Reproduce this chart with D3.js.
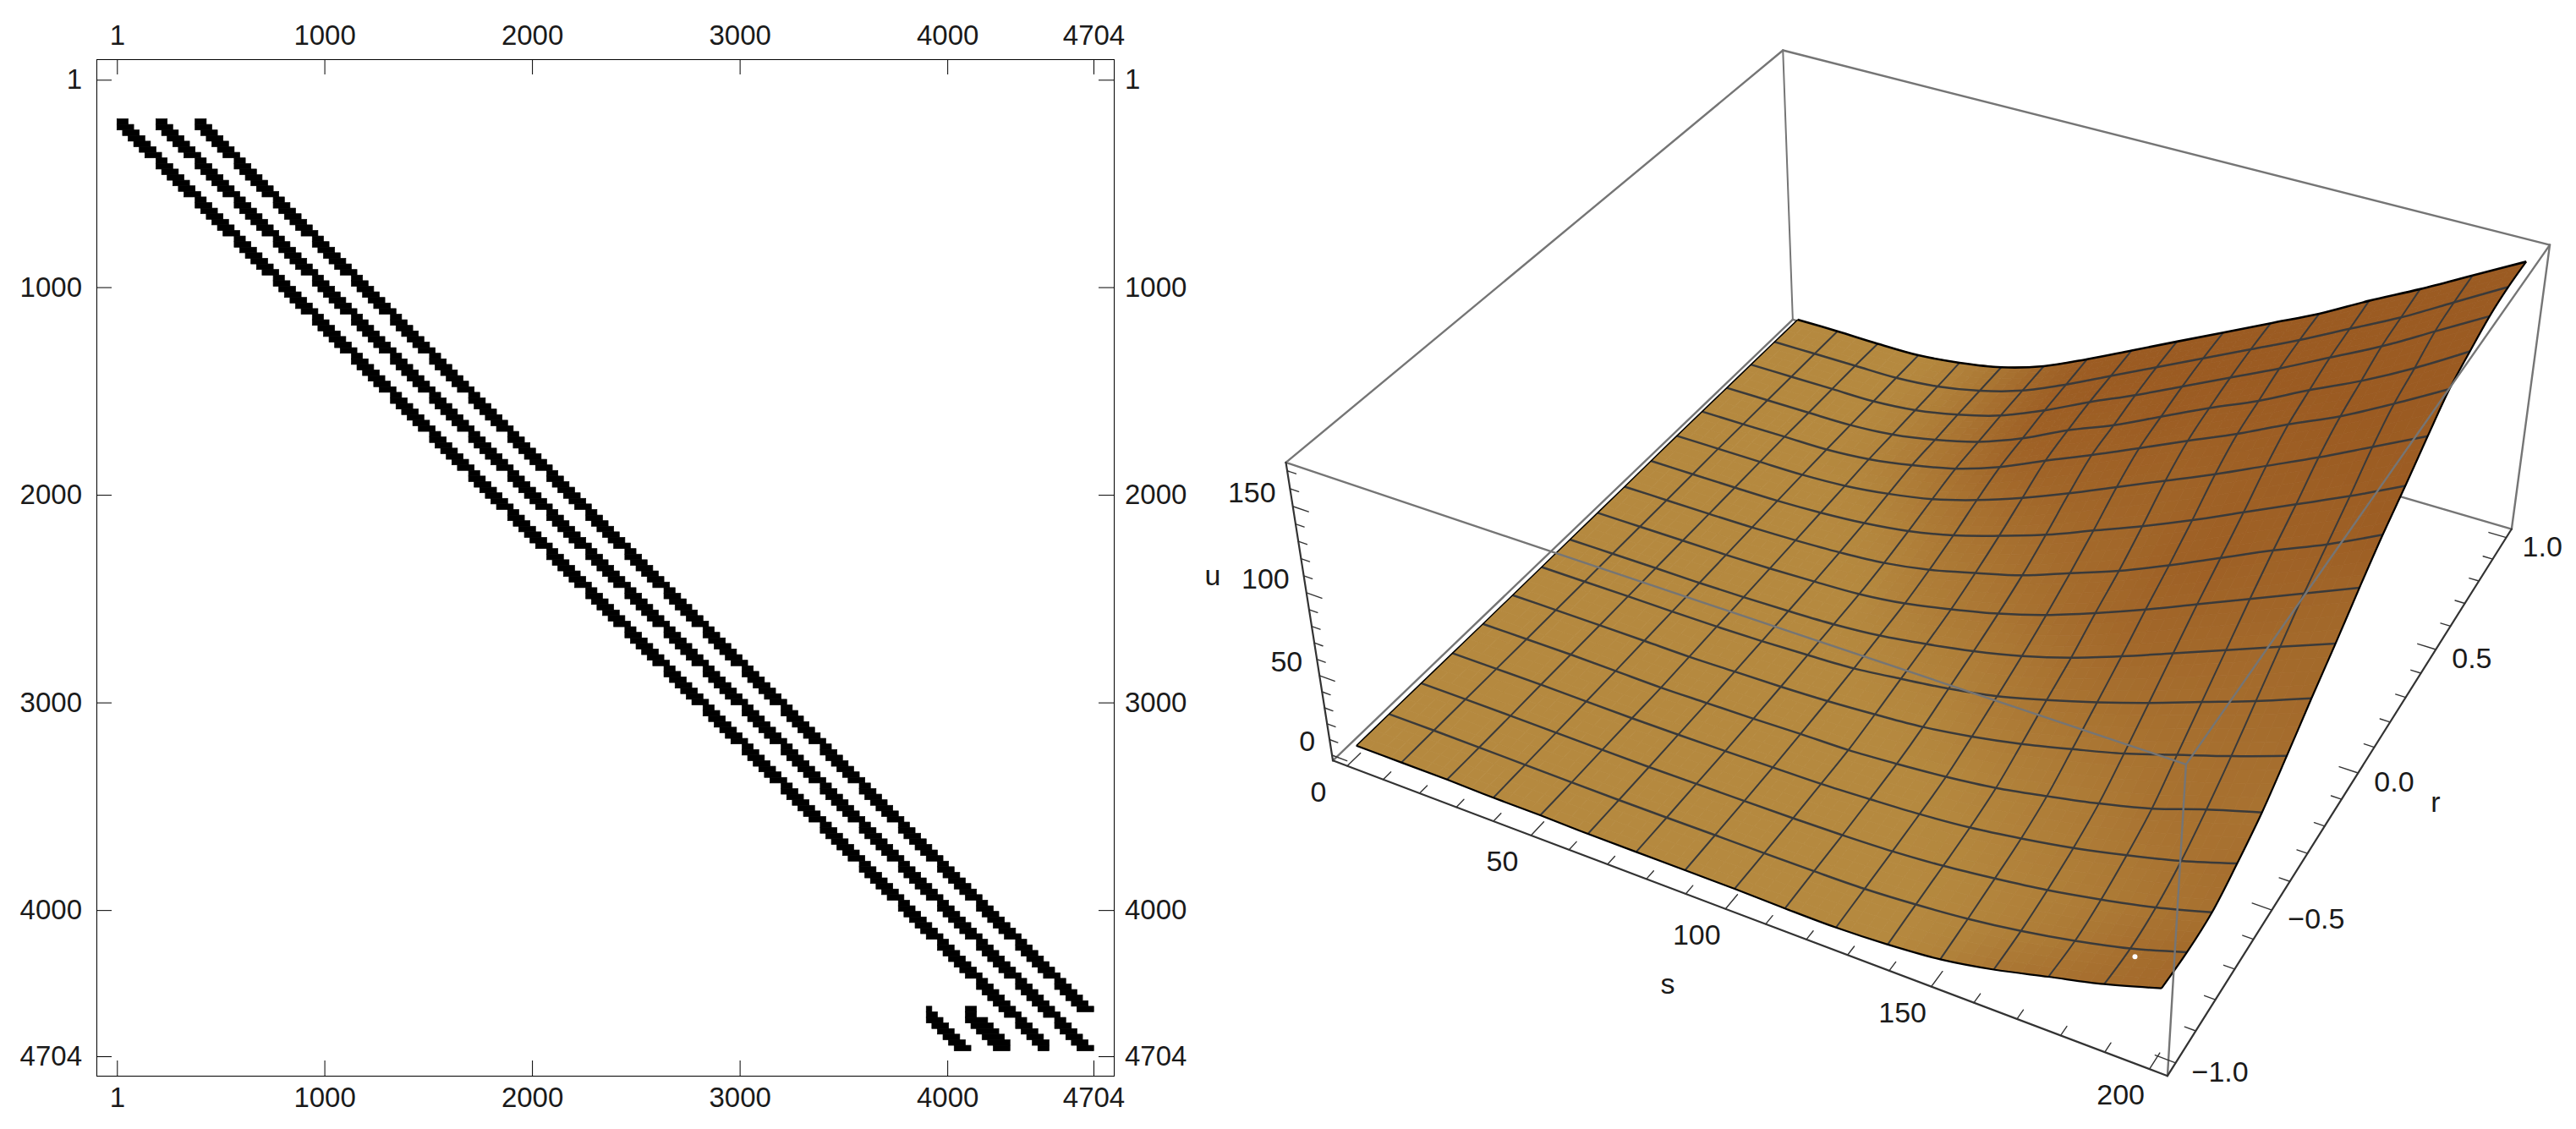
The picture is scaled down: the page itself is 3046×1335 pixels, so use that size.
<!DOCTYPE html>
<html>
<head>
<title>Sparsity pattern and solution surface</title>
<meta charset="utf-8" />
<style>
html, body { margin: 0; padding: 0; background: #fff; }
svg { display: block; }
text { font-family: "Liberation Sans", Arial, sans-serif; fill: #1a1a1a; }
.tick line { stroke: #000; }
</style>
</head>
<body>
<script src="https://d3js.org/d3.v7.min.js"></script>
<script>
// ---- matrix plot data
var matrixSize = 4704;
var matrixTicks = [1, 1000, 2000, 3000, 4000, 4704];
var cellUnits = 26.88;
var blockLength = 7;
// [first col, last col] of each row inside one repeating block of a band
var blockRows = [[0, 1], [0, 2], [1, 3], [2, 4], [3, 5], [4, 6], [5, 7]];
// [first row, first col, last row, last col], in raster cells
var bands = [[7, 0, 173, 166], [7, 7, 173, 174], [7, 14, 166, 174]];
var shortBandRows = [
    [[166, 145, 145], [167, 145, 146], [168, 145, 147], [169, 146, 148], [170, 147, 149], [171, 148, 150], [172, 149, 151], [173, 150, 152]],
    [[166, 152, 153], [167, 152, 153], [168, 152, 155], [169, 153, 156], [170, 154, 157], [171, 155, 158], [172, 156, 159], [173, 157, 159]]
];

// ---- surface data: u at the mesh crossings, one row per r value
var sValues = [0, 12.5, 25, 37.5, 50, 62.5, 75, 87.5, 100, 112.5, 125, 137.5, 150, 162.5, 175, 187.5, 200];
var rValues = [-1, -0.875, -0.75, -0.625, -0.5, -0.375, -0.25, -0.125, 0, 0.125, 0.25, 0.375, 0.5, 0.625, 0.75, 0.875, 1];
var uRowM100 = [3, 3, 3, 2.5, 2.5, 2, 2, 2, 2, 1.5, 1.5, 3, 6, 12, 20, 28, 38];
var uRowM087 = [3, 3, 2.8, 2.5, 2.2, 2, 2, 2.2, 2.2, 2.4, 3, 5, 8, 12.5, 18.5, 26, 36];
var uRowM075 = [3, 3, 2.8, 2.5, 2.2, 2, 2.2, 2.4, 2.6, 3.2, 4.4, 6.8, 10.5, 15, 21, 28, 37];
var uRowM062 = [3, 3, 3, 2.5, 2.2, 2.2, 2.4, 2.8, 3.2, 4.5, 6.2, 9, 13.5, 19, 26, 34, 44];
var uRowM050 = [3, 3, 3, 2.5, 2, 2.4, 2.8, 3.6, 4, 6, 8.7, 12.6, 18.5, 25, 33, 43.6, 53];
var uRowM037 = [3.1, 3.1, 3, 2.8, 2.5, 3, 3.5, 4.6, 6.5, 9, 13.5, 19.5, 27, 35, 45, 55, 66];
var uRowM025 = [3.2, 3.2, 3.2, 3, 3, 3.5, 4.5, 6, 9.5, 13.5, 19, 27, 36, 46, 57, 68, 80];
var uRowM012 = [3.4, 3.4, 3.4, 3.2, 3.5, 4.2, 5.4, 8, 12.5, 18, 25, 34, 45, 57, 69, 81, 93];
var uRowP000 = [3.5, 3.5, 3.5, 3.5, 4, 5, 6.4, 10, 16, 23, 32, 43, 55, 68, 81, 94, 107];
var uRowP012 = [3.6, 3.6, 3.6, 3.8, 4.6, 6, 8.5, 13.5, 21, 29, 40, 51, 64, 78, 92, 105, 120];
var uRowP025 = [3.8, 3.8, 3.8, 4, 5.2, 7.5, 11.5, 18, 27, 37, 49, 61, 74, 88, 102, 116, 131];
var uRowP037 = [4, 4, 4, 4.2, 5.8, 9.5, 15, 23.5, 34, 46, 59, 72, 85, 99, 113, 128, 143];
var uRowP050 = [4, 4, 4.2, 4.3, 6.6, 11.4, 18, 28, 41, 53.5, 66.6, 80, 93, 107.5, 121, 137, 154];
var uRowP062 = [4, 4, 4, 4.2, 6.5, 11.6, 19, 30, 44, 56, 70, 84, 97, 112, 126, 142, 160];
var uRowP075 = [4, 4, 4, 4, 6.5, 12, 20, 32, 46, 59, 73, 87, 101, 116, 131, 148, 165];
var uRowP087 = [4, 4, 4, 4, 6.5, 12, 20.5, 33, 47, 61, 75, 89, 103, 118, 133, 150, 167];
var uRowP100 = [4, 4, 3.5, 3.7, 6.8, 12, 21, 34, 48, 62, 76, 90, 104, 120, 135, 151, 167];
var uRows = [uRowM100, uRowM087, uRowM075, uRowM062, uRowM050, uRowM037, uRowM025, uRowM012, uRowP000,
             uRowP012, uRowP025, uRowP037, uRowP050, uRowP062, uRowP075, uRowP087, uRowP100];

var sTicks = [0, 50, 100, 150, 200];
var rTicks = [-1, -0.5, 0, 0.5, 1];
var uTicks = [0, 50, 100, 150];
var sMinor = d3.range(0, 201, 10);
var rMinor = d3.range(-10, 11).map(function(d) { return d / 10; });
var uMinor = d3.range(0, 171, 10);

var svg = d3.select("body").append("svg")
    .attr("width", 3046)
    .attr("height", 1335);

// ---- left panel
var xM = d3.scaleLinear().domain([1, matrixSize]).range([138.3, 1293]);
var yM = d3.scaleLinear().domain([1, matrixSize]).range([94.3, 1249]);
var frame = {left: 114, right: 1317, top: 70, bottom: 1272};

var cells = [];
bands.forEach(function(b) {
    for (var row = b[0]; row <= b[2]; row++) {
        var k = row - b[0];
        var block = Math.floor(k / blockLength);
        var span = blockRows[k % blockLength];
        var c0 = b[1] + block * blockLength + span[0];
        var c1 = b[1] + block * blockLength + span[1];
        cells.push([row, c0, Math.min(c1, b[3])]);
    }
});
shortBandRows.forEach(function(rows) { cells = cells.concat(rows); });

// the thin stroke closes the seams between neighbouring rows
var matrix = svg.append("g");
matrix.selectAll("rect")
    .data(cells)
  .enter().append("rect")
    .attr("x", function(d) { return xM(1 + d[1] * cellUnits); })
    .attr("y", function(d) { return yM(1 + d[0] * cellUnits); })
    .attr("width", function(d) { return xM(1 + (d[2] + 1) * cellUnits) - xM(1 + d[1] * cellUnits); })
    .attr("height", yM(1 + cellUnits) - yM(1))
    .attr("fill", "#000")
    .attr("stroke", "#000")
    .attr("stroke-width", 0.7);

function matrixAxis(axis, translate, padding) {
    var g = svg.append("g")
        .attr("transform", translate)
        .call(axis.tickValues(matrixTicks).tickFormat(d3.format("d")).tickSize(-18).tickPadding(padding));
    g.select(".domain").remove();
    g.selectAll("text").style("font-size", "33px").style("font-family", '"Liberation Sans"').attr("fill", "#1a1a1a");
}
matrixAxis(d3.axisTop(xM), "translate(0," + frame.top + ")", 17);
matrixAxis(d3.axisBottom(xM), "translate(0," + frame.bottom + ")", 14);
matrixAxis(d3.axisLeft(yM), "translate(" + frame.left + ",0)", 17);
matrixAxis(d3.axisRight(yM), "translate(" + frame.right + ",0)", 13);

svg.append("rect")
    .attr("x", frame.left + 0.5)
    .attr("y", frame.top + 0.5)
    .attr("width", frame.right - frame.left)
    .attr("height", frame.bottom - frame.top)
    .attr("fill", "none")
    .attr("stroke", "#000");

// ---- right panel: a perspective camera fitted to the eight box corners
var sBox = d3.scaleLinear().domain([-4, 204]).range([0, 1]);
var rBox = d3.scaleLinear().domain([-1.04, 1.04]).range([0, 1]);
var uBox = d3.scaleLinear().domain([-3.4, 174.6]).range([0, 1]);
var sMin = sBox.domain()[0], sMax = sBox.domain()[1];
var rMin = rBox.domain()[0], rMax = rBox.domain()[1];
var uMin = uBox.domain()[0], uMax = uBox.domain()[1];

// box position in unit coordinates -> picture position
var boxCorners = [
    [0, 0, 0, 1576, 899.3], [1, 0, 0, 2562.7, 1272.3], [0, 1, 0, 2120, 378.3], [1, 1, 0, 2970, 625],
    [0, 0, 1, 1520.7, 546.7], [1, 0, 1, 2585, 904], [0, 1, 1, 2108, 59.3], [1, 1, 1, 3015, 290]
];

function solve(A, b) {
    var n = b.length, i, j, k;
    for (i = 0; i < n; i++) {
        var p = i;
        for (j = i + 1; j < n; j++) { if (Math.abs(A[j][i]) > Math.abs(A[p][i])) { p = j; } }
        var t = A[i]; A[i] = A[p]; A[p] = t;
        t = b[i]; b[i] = b[p]; b[p] = t;
        for (j = i + 1; j < n; j++) {
            var f = A[j][i] / A[i][i];
            for (k = i; k < n; k++) { A[j][k] -= f * A[i][k]; }
            b[j] -= f * b[i];
        }
    }
    var x = new Array(n);
    for (i = n - 1; i >= 0; i--) {
        var sum = b[i];
        for (j = i + 1; j < n; j++) { sum -= A[i][j] * x[j]; }
        x[i] = sum / A[i][i];
    }
    return x;
}

function fitCamera(corners) {
    var rows = [], rhs = [];
    corners.forEach(function(c) {
        var X = c[0], Y = c[1], Z = c[2], x = c[3] / 1000, y = c[4] / 1000;
        rows.push([X, Y, Z, 1, 0, 0, 0, 0, -x * X, -x * Y, -x * Z]); rhs.push(x);
        rows.push([0, 0, 0, 0, X, Y, Z, 1, -y * X, -y * Y, -y * Z]); rhs.push(y);
    });
    var AtA = d3.range(11).map(function(i) {
        return d3.range(11).map(function(j) { return d3.sum(rows, function(r) { return r[i] * r[j]; }); });
    });
    var Atb = d3.range(11).map(function(i) {
        return d3.sum(rows, function(r, n) { return r[i] * rhs[n]; });
    });
    return solve(AtA, Atb);
}
var cam = fitCamera(boxCorners);

function project(s, r, u) {
    var X = sBox(s), Y = rBox(r), Z = uBox(u);
    var w = cam[8] * X + cam[9] * Y + cam[10] * Z + 1;
    return [1000 * (cam[0] * X + cam[1] * Y + cam[2] * Z + cam[3]) / w,
            1000 * (cam[4] * X + cam[5] * Y + cam[6] * Z + cam[7]) / w];
}

function edge(parent, a, b, color, width) {
    var p = project(a[0], a[1], a[2]), q = project(b[0], b[1], b[2]);
    parent.append("line")
        .attr("x1", p[0]).attr("y1", p[1])
        .attr("x2", q[0]).attr("y2", q[1])
        .attr("stroke", color)
        .attr("stroke-width", width)
        .attr("stroke-linecap", "round");
}

var boxGray = "#757575", axisDark = "#333";
var back = svg.append("g");
edge(back, [sMin, rMax, uMax], [sMin, rMin, uMax], boxGray, 2.4);
edge(back, [sMin, rMax, uMax], [sMax, rMax, uMax], boxGray, 2.4);
edge(back, [sMin, rMax, uMax], [sMin, rMax, uMin], boxGray, 2);
edge(back, [sMax, rMax, uMax], [sMax, rMax, uMin], boxGray, 2.4);
edge(back, [sMin, rMin, uMin], [sMin, rMax, uMin], boxGray, 2.4);
edge(back, [sMin, rMax, uMin], [sMax, rMax, uMin], boxGray, 2.4);

// local steepness along s, eased by the rise along r, decides the shade of the surface
var colorRamp = d3.interpolateRgb("#b5893f", "#9b5b22");
function steepness(j, i) {
    var i0 = Math.max(i - 1, 0), i1 = Math.min(i + 1, sValues.length - 1);
    var j0 = Math.max(j - 1, 0), j1 = Math.min(j + 1, rValues.length - 1);
    var slope = (uRows[j][i1] - uRows[j][i0]) / (sValues[i1] - sValues[i0]);
    var rise = (uRows[j1][i] - uRows[j0][i]) / (rValues[j1] - rValues[j0]);
    return Math.max(0, Math.min(1, (slope - 0.2) / 0.9 - 0.0015 * rise));
}

// each mesh cell is filled as a few small patches so the shade runs smoothly
var subdivisions = 4;
var patches = [];
d3.range(rValues.length - 1).forEach(function(j) {
    d3.range(sValues.length - 1).forEach(function(i) {
        var u00 = uRows[j][i], u10 = uRows[j][i + 1], u01 = uRows[j + 1][i], u11 = uRows[j + 1][i + 1];
        var t00 = steepness(j, i), t10 = steepness(j, i + 1), t01 = steepness(j + 1, i), t11 = steepness(j + 1, i + 1);
        function at(a, b) {
            var u = d3.interpolate(d3.interpolate(u00, u10)(a), d3.interpolate(u01, u11)(a))(b);
            return project(d3.interpolate(sValues[i], sValues[i + 1])(a), d3.interpolate(rValues[j], rValues[j + 1])(b), u);
        }
        d3.range(subdivisions).forEach(function(m) {
            d3.range(subdivisions).forEach(function(n) {
                var a0 = m / subdivisions, a1 = (m + 1) / subdivisions;
                var b0 = n / subdivisions, b1 = (n + 1) / subdivisions;
                var am = (a0 + a1) / 2, bm = (b0 + b1) / 2;
                var t = d3.interpolate(d3.interpolate(t00, t10)(am), d3.interpolate(t01, t11)(am))(bm);
                patches.push({corners: [at(a0, b0), at(a1, b0), at(a1, b1), at(a0, b1)], shade: colorRamp(t)});
            });
        });
    });
});

var surface = svg.append("g");
surface.selectAll("path")
    .data(patches)
  .enter().append("path")
    .attr("d", function(d) { return "M" + d.corners.join("L") + "Z"; })
    .attr("fill", function(d) { return d.shade; })
    .attr("stroke", function(d) { return d.shade; })
    .attr("stroke-width", 0.8);

var meshLine = d3.line().curve(d3.curveCatmullRom.alpha(0.5));
function rLine(j) { return sValues.map(function(s, i) { return project(s, rValues[j], uRows[j][i]); }); }
function sLine(i) { return rValues.map(function(r, j) { return project(sValues[i], r, uRows[j][i]); }); }

var mesh = svg.append("g").attr("fill", "none").attr("stroke", "#3a3a3a");
d3.range(1, rValues.length - 1).forEach(function(j) {
    mesh.append("path").attr("d", meshLine(rLine(j))).attr("stroke-width", 2.5);
});
d3.range(1, sValues.length - 1).forEach(function(i) {
    mesh.append("path").attr("d", meshLine(sLine(i))).attr("stroke-width", 2);
});

var rim = svg.append("g").attr("fill", "none").attr("stroke", "#000").attr("stroke-width", 2.2);
rim.append("path").attr("d", meshLine(rLine(0)));
rim.append("path").attr("d", meshLine(rLine(rValues.length - 1))).attr("stroke-width", 2.6);
rim.append("path").attr("d", meshLine(sLine(0))).attr("stroke-width", 1.5);
rim.append("path").attr("d", meshLine(sLine(sValues.length - 1)));

// small hole in the surface near the front corner
var holeAt = project(sValues[15], rValues[1], uRows[1][15] - 5);
svg.append("circle").attr("cx", holeAt[0] + 6).attr("cy", holeAt[1]).attr("r", 3).attr("fill", "#fff");

var front = svg.append("g");
edge(front, [sMin, rMin, uMax], [sMax, rMin, uMax], boxGray, 2.4);
edge(front, [sMax, rMin, uMax], [sMax, rMax, uMax], boxGray, 2.4);
edge(front, [sMax, rMin, uMax], [sMax, rMin, uMin], boxGray, 2.4);
edge(front, [sMin, rMin, uMin], [sMax, rMin, uMin], axisDark, 2.2);
edge(front, [sMax, rMin, uMin], [sMax, rMax, uMin], axisDark, 2.2);
edge(front, [sMin, rMin, uMin], [sMin, rMin, uMax], axisDark, 2.2);

// ticks run 2% (major) or 1% (minor) of the box into the neighbouring side
var rStep = (rMax - rMin), sStep = (sMax - sMin);
sMinor.forEach(function(s) {
    var len = sTicks.indexOf(s) >= 0 ? 0.024 : 0.014;
    edge(front, [s, rMin, uMin], [s, rMin + len * rStep, uMin], axisDark, 1.4);
});
rMinor.forEach(function(r) {
    var len = rTicks.indexOf(r) >= 0 ? 0.022 : 0.012;
    edge(front, [sMax, r, uMin], [sMax - len * sStep, r, uMin], axisDark, 1.4);
});
uMinor.forEach(function(u) {
    var len = uTicks.indexOf(u) >= 0 ? 0.02 : 0.011;
    edge(front, [sMin, rMin, u], [sMin + len * sStep, rMin, u], axisDark, 1.4);
});

function axisLabel(p, label, dx, dy, anchor) {
    svg.append("text")
        .attr("x", p[0] + dx)
        .attr("y", p[1] + dy)
        .attr("text-anchor", anchor)
        .style("font-size", "34px")
        .text(label);
}
sTicks.forEach(function(s) {
    axisLabel(project(s, rMin, uMin), String(s), -34, 42, "middle");
});
rTicks.forEach(function(r) {
    axisLabel(project(sMax, r, uMin), (r < 0 ? "\u2212" : "") + Math.abs(r).toFixed(1), 19, 22, "start");
});
uTicks.forEach(function(u) {
    axisLabel(project(sMin, rMin, u), String(u), -20, -5, "end");
});
axisLabel([1972, 1175], "s", 0, 0, "middle");
axisLabel([1434, 692], "u", 0, 0, "middle");
axisLabel([2880, 960], "r", 0, 0, "middle");
</script>
</body>
</html>
